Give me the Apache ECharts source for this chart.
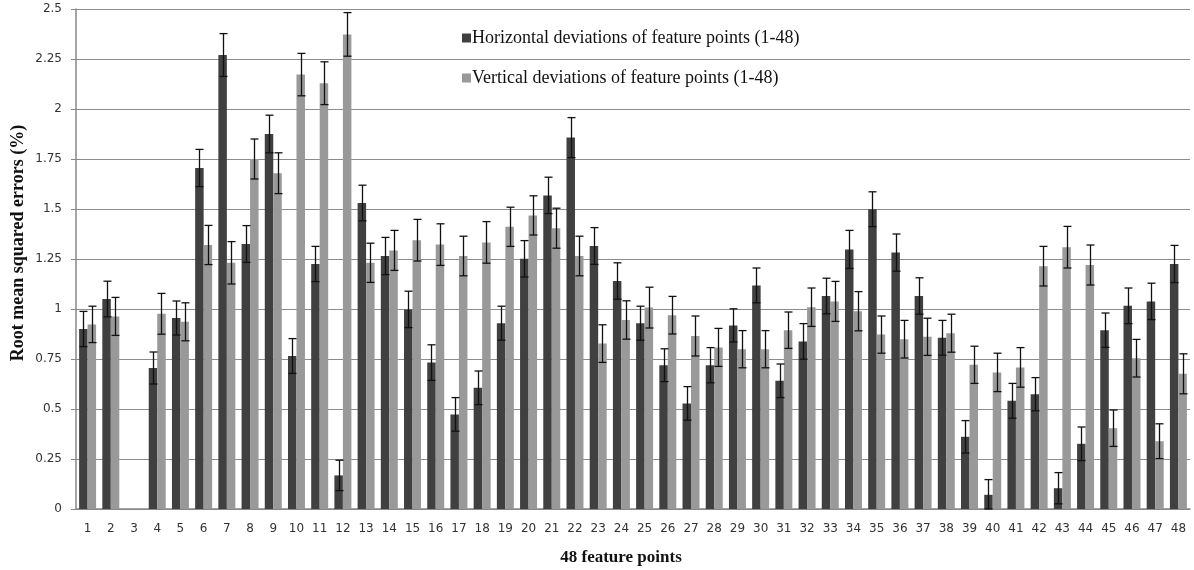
<!DOCTYPE html>
<html>
<head>
<meta charset="utf-8">
<script src="https://cdn.jsdelivr.net/npm/echarts@6/dist/echarts.min.js"></script>
<style>html,body{margin:0;padding:0;background:#fff;}#c{width:1194px;height:570px;}</style>
</head>
<body>
<div id="c"></div>
<script>
const categories = ['1','2','3','4','5','6','7','8','9','10','11','12','13','14','15','16','17','18','19','20','21','22','23','24','25','26','27','28','29','30','31','32','33','34','35','36','37','38','39','40','41','42','43','44','45','46','47','48'];
const yTicks = [0, 0.25, 0.5, 0.75, 1, 1.25, 1.5, 1.75, 2, 2.25, 2.5];
const horizontal = [0.90,1.05,0,0.705,0.955,1.705,2.27,1.325,1.875,0.765,1.225,0.168,1.53,1.265,0.998,0.732,0.473,0.606,0.929,1.251,1.568,1.857,1.315,1.14,0.929,0.719,0.528,0.719,0.918,1.118,0.641,0.838,1.065,1.298,1.499,1.282,1.065,0.856,0.361,0.071,0.541,0.574,0.104,0.326,0.894,1.016,1.038,1.225];
const horizontalErr = [0.088,0.089,0,0.08,0.085,0.093,0.107,0.092,0.094,0.087,0.088,0.076,0.089,0.093,0.091,0.089,0.084,0.084,0.085,0.091,0.091,0.1,0.092,0.091,0.085,0.082,0.084,0.088,0.083,0.087,0.084,0.089,0.089,0.095,0.087,0.093,0.091,0.087,0.081,0.076,0.087,0.083,0.078,0.084,0.086,0.089,0.091,0.093];
const vertical = [0.923,0.963,0,0.976,0.936,1.32,1.231,1.75,1.679,2.172,2.129,2.373,1.231,1.293,1.344,1.322,1.265,1.333,1.411,1.468,1.404,1.265,0.827,0.945,1.007,0.969,0.865,0.808,0.799,0.799,0.894,1.009,1.038,0.989,0.872,0.849,0.861,0.879,0.721,0.683,0.708,1.214,1.309,1.22,0.404,0.754,0.339,0.676];
const verticalErr = [0.091,0.095,0,0.102,0.095,0.098,0.106,0.1,0.102,0.106,0.107,0.109,0.098,0.1,0.104,0.104,0.099,0.104,0.098,0.098,0.1,0.099,0.094,0.096,0.102,0.094,0.1,0.095,0.093,0.093,0.091,0.096,0.1,0.098,0.093,0.094,0.093,0.095,0.093,0.096,0.099,0.099,0.104,0.1,0.091,0.094,0.087,0.1];
const seriesNames = ['Horizontal deviations of feature points (1-48)', 'Vertical deviations of feature points (1-48)'];
const xTitle = '48 feature points';
const yTitle = 'Root mean squared errors (%)';

const BAR_FRAC = 0.366;
function errData(vals, errs) {
  return vals.map((v, i) => [i, v, errs[i]]);
}
function errRender(sign) {
  return function (params, api) {
    const err = api.value(2);
    if (!err) return null;
    const i = api.value(0), v = api.value(1);
    const band = api.size([1, 0])[0];
    const off = sign * band * BAR_FRAC / 2;
    const top = api.coord([i, v + err]);
    const bot = api.coord([i, Math.max(0, v - err)]);
    const x = Math.round(top[0] + off) + 0.5;
    const cap = 4;
    const style = { stroke: '#111', lineWidth: 1.3 };
    return {
      type: 'group',
      children: [
        { type: 'line', shape: { x1: x, y1: top[1], x2: x, y2: bot[1] }, style },
        { type: 'line', shape: { x1: x - cap, y1: top[1], x2: x + cap, y2: top[1] }, style },
        { type: 'line', shape: { x1: x - cap, y1: bot[1], x2: x + cap, y2: bot[1] }, style }
      ]
    };
  };
}

const chart = echarts.init(document.getElementById('c'), null, { renderer: 'canvas' });
chart.setOption({
  animation: false,
  backgroundColor: '#fff',
  grid: { left: 76, right: 4, top: 9, bottom: 61, containLabel: false },
  graphic: [
    { type: 'text', x: 18, y: 243, rotation: Math.PI / 2,
      style: { text: yTitle, fontFamily: 'Liberation Serif', fontSize: 18, fontWeight: 'bold', fill: '#111', align: 'center', verticalAlign: 'middle' } },
    { type: 'text', x: 621, y: 558,
      style: { text: xTitle, fontFamily: 'Liberation Serif', fontSize: 17, fontWeight: 'bold', fill: '#111', align: 'center', verticalAlign: 'middle' } }
  ],
  legend: {
    orient: 'vertical',
    left: 457,
    top: 24,
    itemGap: 22,
    itemWidth: 9,
    itemHeight: 9,
    icon: 'rect',
    data: seriesNames,
    textStyle: { fontFamily: 'Liberation Serif', fontSize: 18, color: '#111', padding: [0, 0, 0, -4] }
  },
  xAxis: {
    type: 'category',
    data: categories,
    axisLine: { lineStyle: { color: '#888', width: 1.5 } },
    axisTick: { show: false },
    axisLabel: { fontFamily: 'DejaVu Sans', fontSize: 12, color: '#333', margin: 14, interval: 0 }
  },
  yAxis: {
    type: 'value',
    min: 0,
    max: 2.5,
    interval: 0.25,
    axisLine: { show: true, lineStyle: { color: '#888', width: 1.5 } },
    axisTick: { show: true, length: 5, lineStyle: { color: '#888' } },
    splitLine: { lineStyle: { color: '#8c8c8c', width: 1.2 } },
    axisLabel: {
      fontFamily: 'DejaVu Sans', fontSize: 12, color: '#333', margin: 14,
      formatter: v => { const t = yTicks.find(x => Math.abs(x - v) < 1e-9); return t === undefined ? '' : String(t); }
    }
  },
  series: [
    { name: seriesNames[0], type: 'bar', data: horizontal, barWidth: (BAR_FRAC * 100) + '%', barGap: '0%', itemStyle: { color: '#404040' } },
    { name: seriesNames[1], type: 'bar', data: vertical, barWidth: (BAR_FRAC * 100) + '%', barGap: '0%', itemStyle: { color: '#999999' } },
    { type: 'custom', renderItem: errRender(-1), data: errData(horizontal, horizontalErr), z: 10, encode: { x: 0, y: 1 } },
    { type: 'custom', renderItem: errRender(1), data: errData(vertical, verticalErr), z: 10, encode: { x: 0, y: 1 } }
  ]
});
</script>
</body>
</html>
